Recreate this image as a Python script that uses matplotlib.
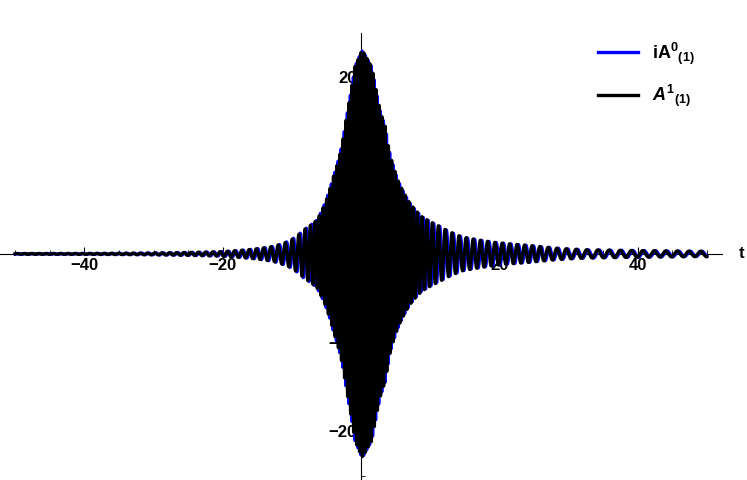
import numpy as np
import matplotlib.pyplot as plt
from matplotlib.ticker import MultipleLocator

plt.rcParams['font.family'] = ['Liberation Sans', 'DejaVu Sans']
plt.rcParams['mathtext.fontset'] = 'custom'
plt.rcParams['mathtext.rm'] = 'Liberation Sans:bold'
plt.rcParams['mathtext.bf'] = 'Liberation Sans:bold'
plt.rcParams['mathtext.it'] = 'Liberation Sans:bold:italic'

# envelope of the oscillation (t, amplitude)
env_t = [-50, -40, -30.5, -20.8, -16, -12.7, -10.3, -8.3, -6.4, -5.2, -4.0, -2.9, -2.07,
         -1.6, -0.87, 0.1, 0.33, 1.55, 2.0, 2.75, 3.5, 4.2, 5.35, 7.1, 8.8, 11.4,
         14.7, 19.6, 24.4, 29.2, 32.6, 40, 48.5, 50]
env_a = [0.04, 0.05, 0.1, 0.24, 0.5, 0.85, 1.5, 2.7, 3.8, 5.75, 8.7, 11.7, 15.5,
         17.6, 21.1, 22.9, 22.8, 21.1, 19.2, 16.2, 14.4, 11.2, 8.3, 5.7, 4.2, 3.1,
         1.9, 1.28, 0.95, 0.6, 0.47, 0.38, 0.3, 0.3]
# apparent wave period along t
per_t = [-50, -12, -9, -6, -3, 0, 3, 6, 9, 12, 25, 33, 50]
per_v = [1.05, 1.05, 0.95, 0.55, 0.45, 0.42, 0.45, 0.5, 0.7, 1.0, 1.1, 1.6, 1.7]
blue_lag = 0.18        # phase lag of iA0 against A1, in t
labels = [r'$\mathbf{iA}^{\mathbf{0}}{}_{\mathbf{(1)}}$', r'$\mathit{A}^{\mathbf{1}}{}_{\mathbf{(1)}}$']
colors = ['#0000ff', '#000000']

t = np.linspace(-50, 50, 40001)
env = np.exp(np.interp(t, env_t, np.log(env_a)))
freq = 2 * np.pi / np.interp(t, per_t, per_v)
phase = np.concatenate([[0], np.cumsum(0.5 * (freq[1:] + freq[:-1]) * np.diff(t))])
phase -= np.interp(0, t, phase)
a1 = env * np.cos(phase)
a0 = env * np.cos(phase - freq * blue_lag)

fig = plt.figure(figsize=(7.47, 4.8), dpi=100)
ax = fig.add_axes([0.0, 0.0, 0.9665, 0.931])
ax.set_axisbelow(True)

l0, = ax.plot(t, a0, color=colors[0], lw=2.4, zorder=3)
l1, = ax.plot(t, a1, color=colors[1], lw=2.4, zorder=4)

ax.set_xlim(-52.2, 52.2)
ax.set_ylim(-25.5, 24.9)

for s in ['top', 'right']:
    ax.spines[s].set_visible(False)
ax.spines['left'].set_position('zero')
ax.spines['bottom'].set_position('zero')
ax.spines['left'].set_linewidth(0.8)
ax.spines['bottom'].set_linewidth(0.8)

ax.xaxis.set_minor_locator(MultipleLocator(5))
ax.yaxis.set_minor_locator(MultipleLocator(5))
ax.set_xticks([-40, -20, 20, 40])
ax.set_yticks([-20, -10, 10, 20])
ax.tick_params(which='major', direction='in', length=5, width=0.8, labelsize=12, pad=3)
ax.tick_params(which='minor', direction='in', length=3, width=0.6)
ax.set_xticklabels(['\u221240', '\u221220', '20', '40'], fontweight='bold')
ax.set_yticklabels(['\u221220', '\u221210', '10', '20'], fontweight='bold')

ax.annotate('t', xy=(1, 0), xycoords=('axes fraction', 'data'), xytext=(12, 0),
            textcoords='offset points', va='center', ha='left', fontsize=12,
            fontweight='bold', annotation_clip=False)

leg = ax.legend([l0, l1], labels, loc='upper right', bbox_to_anchor=(0.985, 1.02),
                frameon=False, fontsize=13, handlelength=2.2, labelspacing=0.9,
                handletextpad=0.8)
for h in leg.legend_handles:
    h.set_linewidth(2.4)

fig.savefig('out.png', dpi=100, facecolor='white')
